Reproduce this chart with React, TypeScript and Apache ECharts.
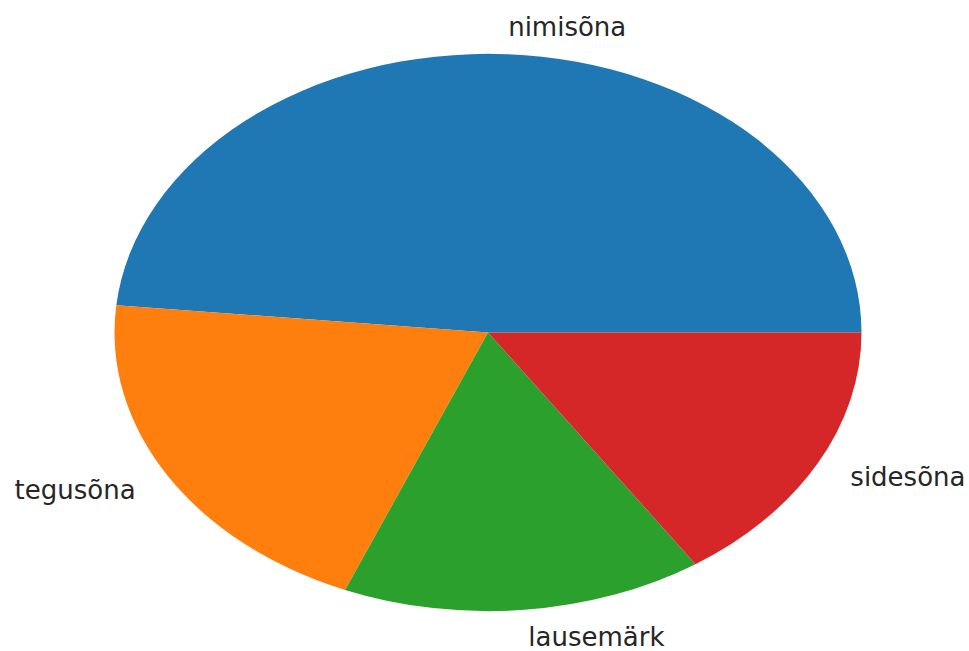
import React, { useEffect, useRef } from "react";
import * as echarts from "echarts";

// Word-class counts shown as a pie (matplotlib-style, stretched to the canvas)
const categories = ["nimisõna", "tegusõna", "lausemärk", "sidesõna"];
const counts = [31, 13, 10, 10];
const colors = ["#1f77b4", "#ff7f0e", "#2ca02c", "#d62728"];

export default function App() {
  const ref = useRef<HTMLDivElement>(null);

  useEffect(() => {
    if (!ref.current) return;
    const chart = echarts.init(ref.current, undefined, { renderer: "svg" });

    const total = counts.reduce((a, b) => a + b, 0);
    const starts: number[] = [];
    let acc = 0;
    counts.forEach((c) => {
      starts.push(acc);
      acc += c;
    });

    // Pie geometry (pixels): centre and the two semi-axes of the ellipse
    const cx = 488;
    const cy = 332.5;
    const rx = 373.5;
    const ry = 278.5;
    const labelDistance = 1.1;

    const renderItem = (params: any, api: any) => {
      const i = params.dataIndex;
      const value = api.value(0);
      // matplotlib convention: start at 0° (east), counter-clockwise
      const a0 = (starts[i] / total) * Math.PI * 2;
      const a1 = ((starts[i] + value) / total) * Math.PI * 2;
      const mid = (a0 + a1) / 2;
      const lx = cx + labelDistance * rx * Math.cos(mid);
      const ly = cy - labelDistance * ry * Math.sin(mid);
      return {
        type: "group",
        children: [
          {
            type: "group",
            x: cx,
            y: cy,
            scaleY: ry / rx,
            children: [
              {
                type: "sector",
                shape: {
                  cx: 0,
                  cy: 0,
                  r0: 0,
                  r: rx,
                  startAngle: -a1,
                  endAngle: -a0,
                  clockwise: true,
                },
                style: { fill: colors[i] },
              },
            ],
          },
          {
            type: "text",
            x: lx,
            y: ly,
            style: {
              text: categories[i],
              fill: "#262626",
              font: '26px "DejaVu Sans"',
              textAlign: Math.cos(mid) >= 0 ? "left" : "right",
              textVerticalAlign: "middle",
            },
          },
        ],
      };
    };

    chart.setOption({
      animation: false,
      backgroundColor: "#ffffff",
      series: [
        {
          type: "custom",
          coordinateSystem: "none",
          silent: true,
          renderItem,
          data: counts.map((c, i) => ({ name: categories[i], value: [c] })),
        },
      ],
    });

    return () => chart.dispose();
  }, []);

  return (
    <div
      ref={ref}
      style={{ position: "fixed", left: 0, top: 0, width: 969, height: 651 }}
    />
  );
}
